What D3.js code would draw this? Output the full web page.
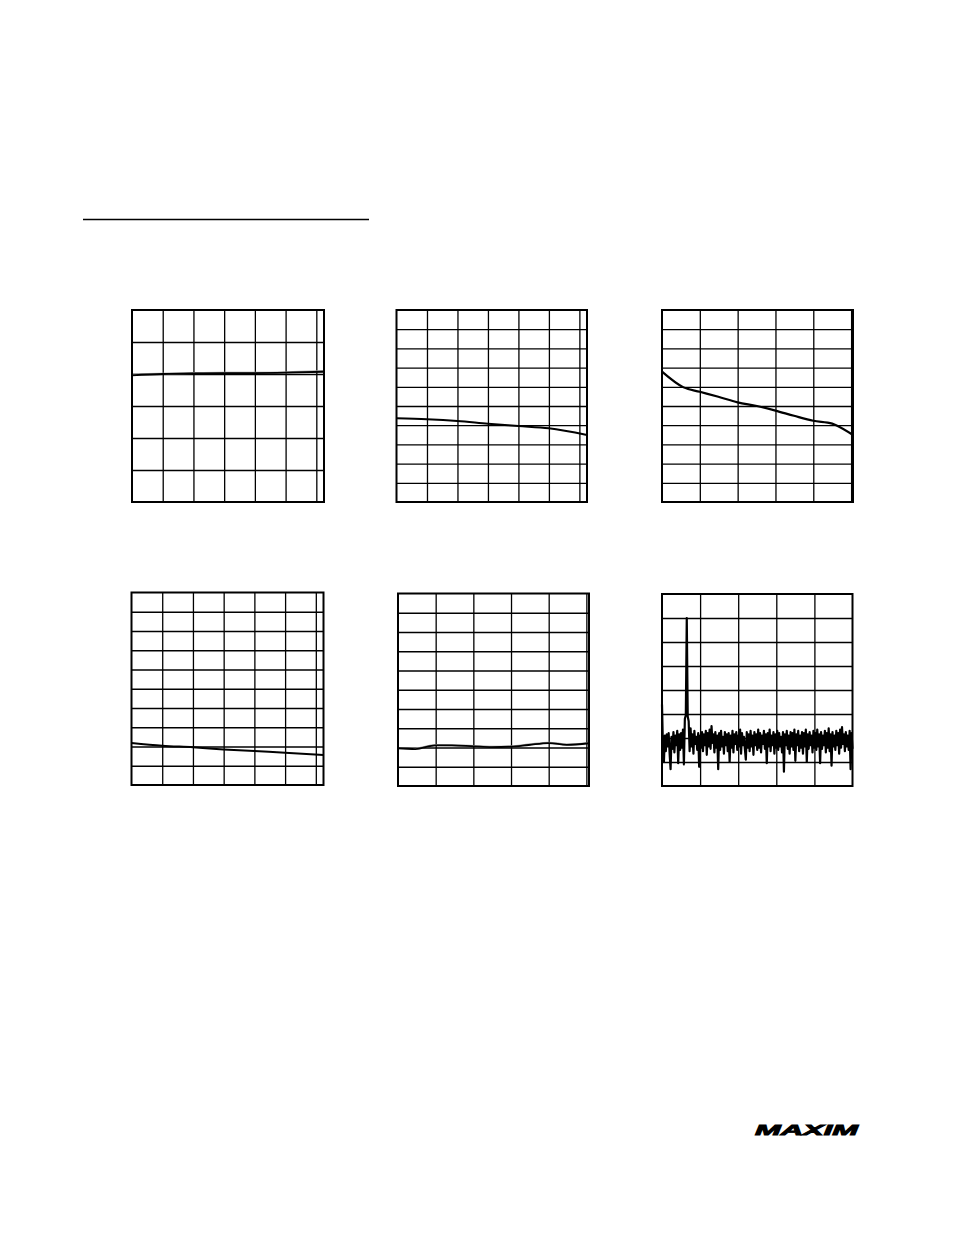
<!DOCTYPE html>
<html>
<head>
<meta charset="utf-8">
<script src="https://cdn.jsdelivr.net/npm/d3@7"></script>
<style>
  html, body { margin: 0; padding: 0; background: #fff; }
  svg { display: block; }
</style>
</head>
<body>
<svg id="page" width="954" height="1235"></svg>
<script>
// ---------- DATA ----------
// Temperature axis (°C) used by panels 1, 2, 4
const tempX = [-40, -20, 0, 20, 40, 60, 85];
const tempTicks = [-20, 0, 20, 40, 60, 80];

// Panel 1 (6 vertical divisions)
const p1Black = [3.96, 4.00, 4.02, 4.03, 4.03, 4.04, 4.07];
const p1Gray  = [3.99, 4.01, 4.03, 4.04, 4.04, 4.05, 4.09];
const p1YTicks = [1, 2, 3, 4, 5];

// Panel 2 (10 vertical divisions)
const p2Y = [4.36, 4.31, 4.22, 4.08, 3.96, 3.84, 3.49];

// Panel 3 (x in divisions, 10 vertical divisions)
const p3X = [0, 0.57, 1.0, 1.49, 2.0, 2.51, 3.0, 3.49, 4.0, 4.5, 4.63, 5.05];
const p3Y = [6.79, 5.97, 5.74, 5.48, 5.19, 5.0, 4.76, 4.49, 4.23, 4.08, 3.97, 3.49];

// Panel 4 (10 vertical divisions)
const p4Y = [2.18, 2.04, 1.96, 1.85, 1.76, 1.68, 1.56];

// Panel 5 (x in divisions, 10 vertical divisions)
const p5X = [0, 0.46, 1.0, 1.43, 2.0, 2.49, 3.0, 3.47, 4.0, 4.48, 5.07];
const p5Black = [1.96, 1.92, 2.11, 2.11, 2.06, 2.02, 2.04, 2.13, 2.23, 2.14, 2.22];
const p5Gray  = [1.98, 1.95, 2.13, 2.12, 2.08, 2.04, 2.06, 2.15, 2.25, 2.16, 2.24];

const divTicks5 = [1, 2, 3, 4, 5];
const yTicks10 = [1, 2, 3, 4, 5, 6, 7, 8, 9];

// Panel 6: FFT magnitude (dB), 201 bins across 5 divisions
const fftBins = [
  -92,-128,-140,-118,-131,-117,-127,-116,-133,-146,
  -119,-129,-115,-132,-118,-126,-114,-141,-117,-130,
  -116,-128,-113,-142,-104,-101,-20,-102,-106,-131,
  -112,-127,-117,-133,-114,-125,-119,-130,-116,-144,
  -118,-128,-115,-131,-117,-126,-114,-134,-116,-127,
  -113,-129,-110,-124,-117,-132,-115,-128,-118,-146,
  -116,-130,-114,-127,-119,-133,-115,-126,-117,-131,
  -116,-140,-118,-128,-114,-132,-117,-125,-115,-130,
  -118,-127,-113,-133,-116,-126,-119,-129,-138,-115,
  -128,-117,-131,-114,-127,-118,-134,-115,-126,-117,
  -130,-113,-128,-116,-132,-118,-125,-114,-129,-117,
  -141,-116,-127,-113,-131,-118,-126,-115,-133,-117,
  -128,-114,-130,-116,-127,-119,-132,-115,-148,-117,
  -126,-114,-129,-118,-133,-115,-127,-116,-130,-113,
  -139,-117,-126,-114,-131,-118,-128,-115,-133,-116,
  -127,-113,-140,-117,-129,-115,-126,-118,-132,-114,
  -128,-116,-130,-113,-127,-117,-141,-115,-129,-118,
  -126,-114,-132,-116,-128,-112,-131,-117,-143,-115,
  -127,-118,-130,-114,-126,-116,-133,-113,-128,-111,
  -125,-117,-131,-115,-127,-118,-130,-114,-146,-116,
  -129
];
const fftYTicks = [-140, -120, -100, -80, -60, -40, -20];

// ---------- DRAWING ----------
const svg = d3.select("#page");

// section header rule
svg.append("line")
  .attr("x1", 83).attr("x2", 369).attr("y1", 219.5).attr("y2", 219.5)
  .attr("stroke", "#000").attr("stroke-width", 1.3);

function panel(box, xDomain, xTicks, yDomain, yTicks, series) {
  const g = svg.append("g").attr("transform", `translate(${box.x},${box.y})`);
  const x = d3.scaleLinear().domain(xDomain).range([0, box.w]);
  const y = d3.scaleLinear().domain(yDomain).range([box.h, 0]);

  const gx = g.append("g").attr("transform", `translate(0,${box.h})`)
    .call(d3.axisBottom(x).tickValues(xTicks).tickSizeInner(-box.h).tickSizeOuter(0).tickFormat(""));
  const gy = g.append("g")
    .call(d3.axisLeft(y).tickValues(yTicks).tickSizeInner(-box.w).tickSizeOuter(0).tickFormat(""));
  [gx, gy].forEach(a => {
    a.select(".domain").remove();
    a.selectAll(".tick line").attr("stroke", "#000").attr("stroke-width", 1.3);
  });

  series.forEach(s => {
    const line = d3.line()
      .x(d => x(d[0])).y(d => y(d[1]))
      .curve(s.curve || d3.curveMonotoneX);
    g.append("path")
      .datum(s.pts)
      .attr("d", line)
      .attr("fill", "none")
      .attr("stroke", s.color)
      .attr("stroke-width", s.width)
      .attr("stroke-linejoin", "round");
  });

  g.append("rect")
    .attr("x", 0).attr("y", 0).attr("width", box.w).attr("height", box.h)
    .attr("fill", "none").attr("stroke", "#000").attr("stroke-width", 2);
}

const zip = (xs, ys) => xs.map((v, i) => [v, ys[i]]);

// Panel 1
panel({x: 132, y: 310, w: 192, h: 192}, [-40, 85], tempTicks, [0, 6], p1YTicks, [
  {pts: zip(tempX, p1Gray), color: "#999", width: 2},
  {pts: zip(tempX, p1Black), color: "#000", width: 1.8}
]);
// Panel 2
panel({x: 396.5, y: 310, w: 190.5, h: 192}, [-40, 85], tempTicks, [0, 10], yTicks10, [
  {pts: zip(tempX, p2Y), color: "#000", width: 2}
]);
// Panel 3
panel({x: 662, y: 310, w: 191, h: 192}, [0, 5.05], divTicks5, [0, 10], yTicks10, [
  {pts: zip(p3X, p3Y), color: "#000", width: 2.2}
]);
// Panel 4
panel({x: 131.5, y: 592.5, w: 192, h: 192.5}, [-40, 85], tempTicks, [0, 10], yTicks10, [
  {pts: zip(tempX, p4Y), color: "#000", width: 2}
]);
// Panel 5
panel({x: 398, y: 593.5, w: 191, h: 192.5}, [0, 5.07], divTicks5, [0, 10], yTicks10, [
  {pts: zip(p5X, p5Gray), color: "#999", width: 2},
  {pts: zip(p5X, p5Black), color: "#000", width: 1.8}
]);
// Panel 6 (FFT)
panel({x: 662, y: 594, w: 190.5, h: 192}, [0, fftBins.length - 1],
  [40, 80, 120, 160], [-160, 0], fftYTicks, [
  {pts: fftBins.map((v, i) => [i, v]), color: "#000", width: 2.2, curve: d3.curveLinear}
]);

// Logo
svg.append("text")
  .attr("x", 755).attr("y", 1135)
  .attr("font-family", "Liberation Sans, Arial, sans-serif")
  .attr("font-weight", "bold").attr("font-style", "italic")
  .attr("font-size", 15.5)
  .attr("textLength", 103).attr("lengthAdjust", "spacingAndGlyphs")
  .attr("fill", "#000").attr("stroke", "#000").attr("stroke-width", 0.9)
  .text("MAXIM");
</script>
</body>
</html>
